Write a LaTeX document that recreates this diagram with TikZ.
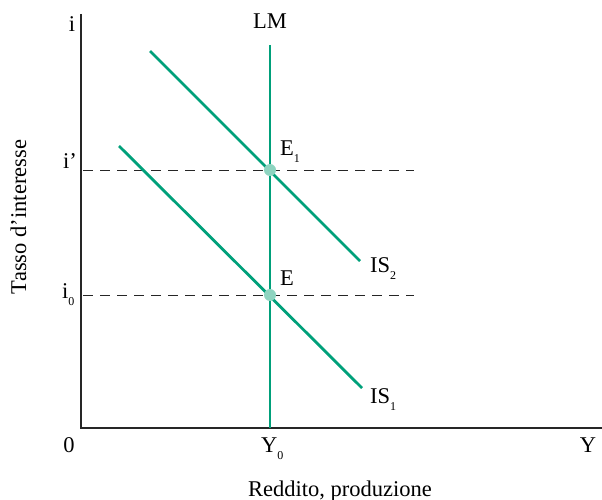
\documentclass[tikz,border=0pt]{standalone}
\usepackage{fontspec}
\setmainfont{Liberation Serif}
\definecolor{curvegreen}{RGB}{0,160,122}
\definecolor{dotgreen}{RGB}{142,212,192}
\newcommand{\sbs}[1]{\raisebox{-7pt}{\fontsize{12}{12}\selectfont #1}}
\begin{document}
\begin{tikzpicture}[x=1pt,y=-1pt,
  axis/.style={line width=1.3pt,black!85},
  curve/.style={line width=2.8pt,curvegreen},
  guide/.style={line width=0.9pt,black!85,dash pattern=on 10pt off 7pt},
  lbl/.style={font=\fontsize{22.5}{22.5}\selectfont,inner sep=0pt},
  eqdot/.style={circle,fill=dotgreen,minimum size=12pt,inner sep=0pt}]
\useasboundingbox (0,0) rectangle (602,500);
% axes
\coordinate (O) at (81,428);
\coordinate (ytop) at (81,14);
\coordinate (xend) at (602,428);
\draw[axis] (ytop) -- (O) -- (xend);
% dashed guides
\coordinate (ip0) at (83,170); \coordinate (ip1) at (414,170);
\coordinate (i00) at (83,295); \coordinate (i01) at (414,295);
\draw[guide] (ip0) -- (ip1);
\draw[guide] (i00) -- (i01);
% curves
\coordinate (lmtop) at (270,45); \coordinate (lmbot) at (270,428);
\coordinate (is2a) at (150,51); \coordinate (is2b) at (360,261);
\coordinate (is1a) at (119,146); \coordinate (is1b) at (362,388);
\draw[curve] (lmtop) -- (lmbot);
\draw[curve] (is2a) -- (is2b);
\draw[curve] (is1a) -- (is1b);
% equilibrium points
\node[eqdot] (E1) at (270,170) {};
\node[eqdot] (E) at (270,295) {};
% labels
\node[lbl,anchor=base] (li) at (72,32) {i};
\node[lbl,anchor=base] (lLM) at (270,29) {LM};
\node[lbl,anchor=base west] (lip) at (63,168) {i’};
\node[lbl,anchor=base west] (lE1) at (280,155) {E\sbs{1}};
\node[lbl,anchor=base west] (li0) at (62,298) {i\sbs{0}};
\node[lbl,anchor=base west] (lE) at (280,285) {E};
\node[lbl,anchor=base west] (lIS2) at (370,272) {IS\sbs{2}};
\node[lbl,anchor=base west] (lIS1) at (370,403) {IS\sbs{1}};
\node[lbl,anchor=base] (l0) at (69,452) {0};
\node[lbl,anchor=base west] (lY0) at (261,452) {Y\sbs{0}};
\node[lbl,anchor=base] (lY) at (588,452) {Y};
\node[lbl,anchor=base] (lx) at (340,496) {Reddito, produzione};
\node[lbl,anchor=base,rotate=90] (ly) at (26,217) {Tasso d’interesse};
\end{tikzpicture}
\end{document}
